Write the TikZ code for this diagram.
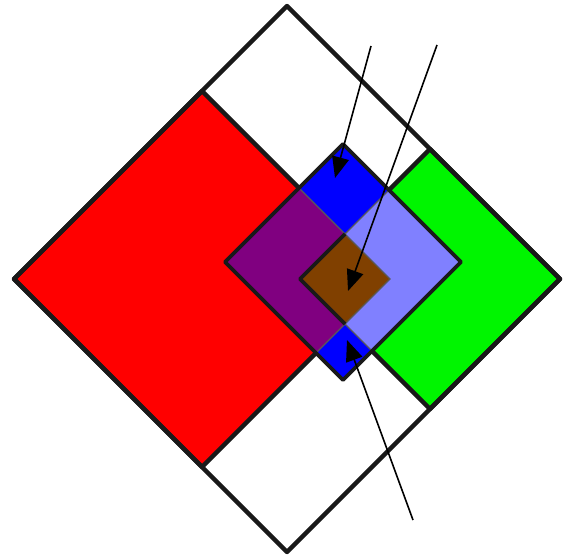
\documentclass[tikz,border=0pt]{standalone}
\usetikzlibrary{arrows.meta}
\definecolor{setred}{HTML}{FF0000}
\definecolor{setgreen}{HTML}{00F500}
\definecolor{setblue}{HTML}{0000FF}
\definecolor{setpurple}{HTML}{800080}
\definecolor{setlight}{HTML}{8080FF}
\definecolor{setbrown}{HTML}{804000}
% square turned on its corner: centre, half diagonal
\newcommand{\sqpath}[2]{(#1) +(0,-#2) -- +(-#2,0) -- +(0,#2) -- +(#2,0) -- cycle}
\tikzset{
  rim/.style={draw=black!90, line width=4.4pt, line join=round},
  innerrim/.style={draw=black!90, line width=3.6pt, line join=round},
  seam/.style={draw=black!65, line width=1.3pt},
  pointer/.style={-{Triangle[length=21pt,width=17pt]}, line width=1.6pt, color=black}}

\begin{document}
\begin{tikzpicture}[x=1pt,y=-1pt]
    \useasboundingbox (0,0) rectangle (572,559);
    \coordinate (outc) at (287,279);
    \coordinate (redc) at (202,279);
    \coordinate (grnc) at (430,279);
    \coordinate (midc) at (343,262);
    % the two big squares
    \fill[setred] \sqpath{redc}{188};
    \fill[setgreen] \sqpath{grnc}{130};
    \draw[rim] \sqpath{outc}{273};
    \draw[rim] \sqpath{redc}{188};
    \draw[rim] \sqpath{grnc}{130};
    % the middle square and its overlaps
    \fill[setblue] \sqpath{midc}{118};
    \begin{scope}
      \clip \sqpath{midc}{118};
      \fill[setpurple] \sqpath{redc}{188};
      \fill[setlight] \sqpath{grnc}{130};
      \begin{scope}
        \clip \sqpath{redc}{188};
        \fill[setbrown] \sqpath{grnc}{130};
      \end{scope}
      \draw[seam] \sqpath{redc}{188};
      \draw[seam] \sqpath{grnc}{130};
    \end{scope}
    \coordinate (brtop) at (345,234);
    \coordinate (brleft) at (300,279);
    \coordinate (brbot) at (345,324);
    \draw[innerrim] (brtop) -- (brleft) -- (brbot);
    \draw[innerrim] \sqpath{midc}{118};
    % pointers
    \coordinate (p1) at (371,46);
    \coordinate (t1) at (335,178);
    \coordinate (p2) at (437,45);
    \coordinate (t2) at (348,291);
    \coordinate (p3) at (413,520);
    \coordinate (t3) at (347,340);
    \draw[pointer] (p1) -- (t1);
    \draw[pointer] (p2) -- (t2);
    \draw[pointer] (p3) -- (t3);
  \end{tikzpicture}
\end{document}
